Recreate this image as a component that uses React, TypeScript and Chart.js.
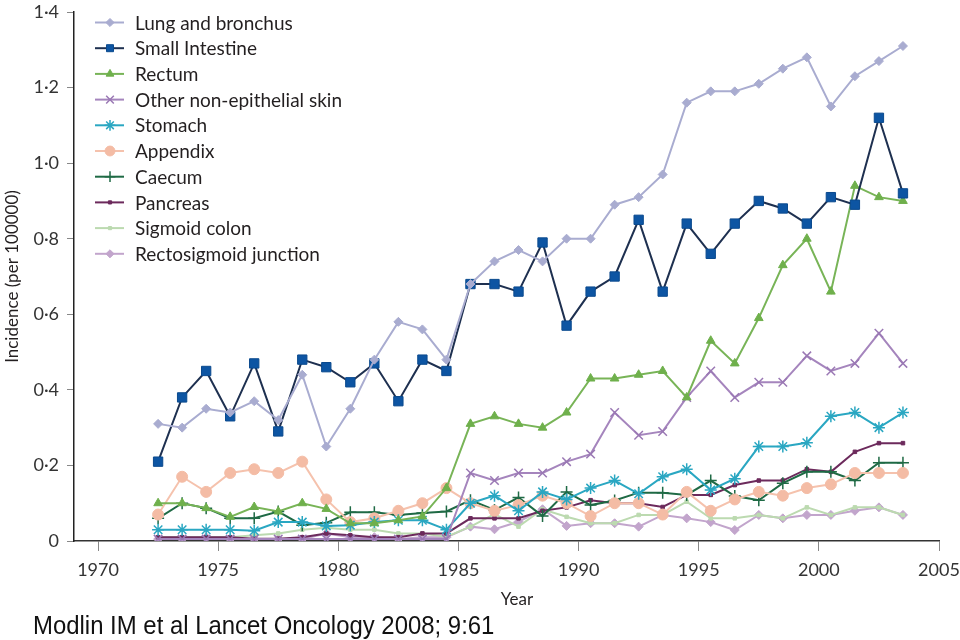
import React, { useEffect, useRef } from "react";
import { Chart, registerables } from "chart.js";
import { drawPoint } from "chart.js/helpers";

Chart.register(...registerables);

const years = [1972.5, 1973.5, 1974.5, 1975.5, 1976.5, 1977.5, 1978.5, 1979.5, 1980.5, 1981.5, 1982.5, 1983.5, 1984.5, 1985.5, 1986.5, 1987.5, 1988.5, 1989.5, 1990.5, 1991.5, 1992.5, 1993.5, 1994.5, 1995.5, 1996.5, 1997.5, 1998.5, 1999.5, 2000.5, 2001.5, 2002.5, 2003.5];

const lung = [0.31, 0.30, 0.35, 0.34, 0.37, 0.32, 0.44, 0.25, 0.35, 0.48, 0.58, 0.56, 0.48, 0.68, 0.74, 0.77, 0.74, 0.80, 0.80, 0.89, 0.91, 0.97, 1.16, 1.19, 1.19, 1.21, 1.25, 1.28, 1.15, 1.23, 1.27, 1.31];
const smallIntestine = [0.21, 0.38, 0.45, 0.33, 0.47, 0.29, 0.48, 0.46, 0.42, 0.47, 0.37, 0.48, 0.45, 0.68, 0.68, 0.66, 0.79, 0.57, 0.66, 0.70, 0.85, 0.66, 0.84, 0.76, 0.84, 0.90, 0.88, 0.84, 0.91, 0.89, 1.12, 0.92];
const rectum = [0.10, 0.10, 0.087, 0.064, 0.09, 0.078, 0.10, 0.085, 0.047, 0.047, 0.055, 0.065, 0.14, 0.31, 0.33, 0.31, 0.30, 0.34, 0.43, 0.43, 0.44, 0.45, 0.38, 0.53, 0.47, 0.59, 0.73, 0.80, 0.66, 0.94, 0.91, 0.90];
const otherSkin = [0.005, 0.005, 0.005, 0.005, 0.005, 0.005, 0.005, 0.005, 0.005, 0.005, 0.005, 0.005, 0.005, 0.18, 0.16, 0.18, 0.18, 0.21, 0.23, 0.34, 0.28, 0.29, 0.38, 0.45, 0.38, 0.42, 0.42, 0.49, 0.45, 0.47, 0.55, 0.47];
const stomach = [0.03, 0.03, 0.03, 0.03, 0.027, 0.05, 0.05, 0.04, 0.042, 0.05, 0.055, 0.055, 0.03, 0.10, 0.12, 0.08, 0.13, 0.11, 0.14, 0.16, 0.125, 0.17, 0.19, 0.135, 0.165, 0.25, 0.25, 0.26, 0.33, 0.34, 0.30, 0.34];
const appendix = [0.07, 0.17, 0.13, 0.18, 0.19, 0.18, 0.21, 0.11, 0.05, 0.06, 0.08, 0.10, 0.14, 0.10, 0.08, 0.095, 0.12, 0.10, 0.066, 0.10, 0.10, 0.07, 0.13, 0.08, 0.11, 0.13, 0.12, 0.14, 0.15, 0.18, 0.18, 0.18];
const caecum = [0.06, 0.10, 0.087, 0.06, 0.06, 0.078, 0.042, 0.048, 0.076, 0.076, 0.069, 0.074, 0.078, 0.108, 0.082, 0.115, 0.066, 0.13, 0.095, 0.107, 0.128, 0.128, 0.122, 0.16, 0.119, 0.108, 0.153, 0.183, 0.183, 0.16, 0.207, 0.207];
const pancreas = [0.01, 0.01, 0.01, 0.01, 0.006, 0.006, 0.01, 0.02, 0.015, 0.01, 0.01, 0.02, 0.02, 0.06, 0.06, 0.06, 0.08, 0.089, 0.108, 0.10, 0.10, 0.09, 0.122, 0.122, 0.148, 0.16, 0.16, 0.19, 0.183, 0.236, 0.259, 0.259];
const sigmoidColon = [0.01, 0.01, 0.01, 0.01, 0.015, 0.02, 0.03, 0.035, 0.03, 0.03, 0.02, 0.02, 0.011, 0.038, 0.071, 0.038, 0.084, 0.064, 0.047, 0.047, 0.069, 0.069, 0.104, 0.06, 0.06, 0.069, 0.06, 0.089, 0.069, 0.089, 0.089, 0.069];
const rectosigmoid = [0.005, 0.005, 0.01, 0.005, 0.005, 0.005, 0.005, 0.02, 0.01, 0.01, 0.005, 0.01, 0.01, 0.038, 0.031, 0.051, 0.084, 0.04, 0.047, 0.047, 0.038, 0.069, 0.06, 0.05, 0.029, 0.069, 0.06, 0.069, 0.069, 0.08, 0.089, 0.069];

const seriesNames = ["Lung and bronchus", "Small Intestine", "Rectum", "Other non-epithelial skin", "Stomach", "Appendix", "Caecum", "Pancreas", "Sigmoid colon", "Rectosigmoid junction"];
const xTickValues = [1970, 1975, 1980, 1985, 1990, 1995, 2000, 2005];
const yTickValues = [0, 0.2, 0.4, 0.6, 0.8, 1.0, 1.2, 1.4];
const xTitle = "Year";
const yTitle = "Incidence (per 100000)";
const footnote = "Modlin IM et al Lancet Oncology 2008; 9:61";

const seriesValues = [lung, smallIntestine, rectum, otherSkin, stomach, appendix, caecum, pancreas, sigmoidColon, rectosigmoid];

const styles = [
  { line: "#a9acd0", fill: "#a9acd0", stroke: "#a9acd0", point: "rectRot", r: 4.5, bw: 1 },
  { line: "#1e3050", fill: "#0d55a3", stroke: "#0b4a8e", point: "rect", r: 6.6, bw: 1 },
  { line: "#78b457", fill: "#6fb04c", stroke: "#6fb04c", point: "triangle", r: 5, bw: 1 },
  { line: "#a585bd", fill: "#a585bd", stroke: "#9a78b4", point: "crossRot", r: 6, bw: 1.5 },
  { line: "#2aa7c2", fill: "#2aa7c2", stroke: "#2aa7c2", point: "star", r: 6, bw: 1.5 },
  { line: "#f5c2ad", fill: "#f4bca5", stroke: "#f4bca5", point: "circle", r: 5.5, bw: 1 },
  { line: "#1f6a45", fill: "#1f6a45", stroke: "#1f6a45", point: "cross", r: 6, bw: 1.5 },
  { line: "#6c2a5c", fill: "#6c2a5c", stroke: "#6c2a5c", point: "rect", r: 2.5, bw: 1 },
  { line: "#bcdab0", fill: "#bcdab0", stroke: "#bcdab0", point: "rect", r: 2.5, bw: 1 },
  { line: "#c2a5cc", fill: "#c2a5cc", stroke: "#c2a5cc", point: "rectRot", r: 4.5, bw: 1 },
];

const FONT = "Lato, 'Open Sans', 'DejaVu Sans', sans-serif";

const legendPlugin = {
  id: "customLegend",
  afterDraw(chart: any) {
    const ctx = chart.ctx;
    ctx.save();
    seriesNames.forEach((name, i) => {
      const s = styles[i];
      const y = 22.5 + i * 25.7;
      ctx.strokeStyle = s.line;
      ctx.lineWidth = 2;
      ctx.beginPath();
      ctx.moveTo(95, y);
      ctx.lineTo(124, y);
      ctx.stroke();
      ctx.fillStyle = s.fill;
      ctx.strokeStyle = s.stroke;
      ctx.lineWidth = s.bw;
      const r = s.point === "rect" && s.r > 5 ? 5.5 : s.r;
      drawPoint(ctx, { pointStyle: s.point, radius: r * 0.9, rotation: 0, borderWidth: s.bw }, 110, y);
      ctx.fillStyle = "#231f20";
      ctx.font = `19px ${FONT}`;
      ctx.textBaseline = "middle";
      ctx.textAlign = "left";
      ctx.fillText(name, 135, y + 1);
    });
    ctx.fillStyle = "#231f20";
    ctx.font = `17px ${FONT}`;
    ctx.textAlign = "center";
    ctx.textBaseline = "middle";
    ctx.fillText(xTitle, 517, 600);
    ctx.restore();
  },
};

export default function App() {
  const ref = useRef<HTMLCanvasElement | null>(null);
  useEffect(() => {
    if (!ref.current) return;
    const datasets = seriesNames.map((name, i) => {
      const s = styles[i];
      return {
        label: name,
        data: years.map((x, j) => ({ x, y: seriesValues[i][j] })),
        borderColor: s.line,
        backgroundColor: s.fill,
        borderWidth: 2,
        pointStyle: s.point,
        pointRadius: s.r,
        pointBackgroundColor: s.fill,
        pointBorderColor: s.stroke,
        pointBorderWidth: s.bw,
        tension: 0,
        fill: false,
      };
    });
    const chart = new Chart(ref.current, {
      type: "line",
      data: { datasets },
      plugins: [legendPlugin],
      options: {
        animation: false,
        responsive: false,
        layout: { padding: { left: 0, right: 21, top: 12, bottom: 0 } },
        plugins: { legend: { display: false }, tooltip: { enabled: false } },
        scales: {
          x: {
            type: "linear",
            min: 1969,
            max: 2005,
            afterBuildTicks: (scale: any) => {
              scale.ticks = xTickValues.map((v) => ({ value: v }));
            },
            afterFit: (scale: any) => {
              scale.height = 99;
            },
            ticks: {
              autoSkip: false,
              maxRotation: 0,
              padding: 0,
              color: "#333",
              font: { family: FONT, size: 18, lineHeight: 2.1 },
              callback: (v: any) => String(v),
            },
            grid: { display: true, drawOnChartArea: false, drawTicks: true, tickLength: 10, color: "#888", lineWidth: 1 },
            border: { display: true, color: "#333", width: 1.5 },
          },
          y: {
            type: "linear",
            min: 0,
            max: 1.4,
            afterBuildTicks: (scale: any) => {
              scale.ticks = yTickValues.map((v) => ({ value: v }));
            },
            afterFit: (scale: any) => {
              scale.width = 74;
            },
            ticks: {
              padding: 8,
              color: "#333",
              font: { family: FONT, size: 18, lineHeight: 0.4 },
              callback: (v: any) => (v === 0 ? "0" : Number(v).toFixed(1).replace(".", "·")),
            },
            grid: { display: true, drawOnChartArea: false, drawTicks: true, tickLength: 7, color: "#888", lineWidth: 1 },
            border: { display: true, color: "#222", width: 1.5 },
            title: {
              display: true,
              text: yTitle,
              color: "#231f20",
              font: { family: FONT, size: 17 },
              padding: { top: 2, bottom: 0 },
            },
          },
        },
      },
    } as any);
    return () => chart.destroy();
  }, []);

  return (
    <div style={{ position: "absolute", left: 0, top: 0, width: 960, height: 640, background: "#fff", overflow: "hidden" }}>
      <canvas ref={ref} width={960} height={640} style={{ display: "block" }} />
      <div
        style={{
          position: "absolute",
          left: 33,
          top: 610,
          fontFamily: "'Liberation Sans', Arial, sans-serif",
          fontSize: 26,
          lineHeight: "30px",
          color: "#111",
          whiteSpace: "nowrap",
          transform: "scaleX(0.92)",
          transformOrigin: "left top",
        }}
      >
        {footnote}
      </div>
    </div>
  );
}
